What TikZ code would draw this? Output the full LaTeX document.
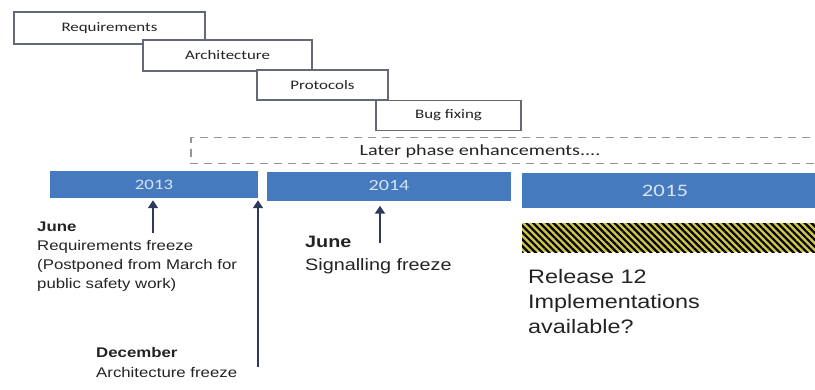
\documentclass[tikz,border=0pt]{standalone}
\usepackage{fontspec}
\setmainfont[FakeStretch=1.2]{Liberation Sans}
\newfontfamily\carlito[FakeStretch=1.3]{Carlito}
\usepackage{xcolor}
\usetikzlibrary{arrows.meta, patterns.meta}

\definecolor{barblue}{RGB}{70,122,190}
\definecolor{yeartxt}{RGB}{215,228,245}
\definecolor{arrownavy}{RGB}{45,58,90}
\definecolor{boxgray}{RGB}{100,105,118}
\definecolor{dashgray}{RGB}{150,150,150}
\definecolor{notetxt}{RGB}{35,35,35}
\definecolor{hazard}{RGB}{205,198,75}

\begin{document}
\begin{tikzpicture}[x=1pt, y=-1pt,
    phase/.style={rectangle, draw=boxgray, line width=1.8pt, fill=white, inner sep=0pt, text=notetxt, font=\carlito\fontsize{13}{15}\selectfont},
    later/.style={draw=dashgray, line width=1.8pt, dash pattern=on 8pt off 6pt},
    yr/.style={rectangle, fill=barblue, text=yeartxt, inner sep=0pt},
    note/.style={anchor=north west, align=left, inner sep=0pt, text=notetxt},
    up/.style={-{Triangle[length=8pt, width=10pt]}, line width=2.4pt, draw=arrownavy, shorten >=2pt},
]
    \useasboundingbox (0,0) rectangle (815,389);

    % work phases
    \node[phase, minimum width=191pt, minimum height=32pt] (req) at (109.5,28) {Requirements};
    \node[phase, minimum width=169pt, minimum height=31pt] (arch) at (227.5,55.5) {Architecture};
    \node[phase, minimum width=131pt, minimum height=30pt] (prot) at (322.5,85) {Protocols};
    \node[phase, minimum width=145pt, minimum height=30pt] (bug) at (448.5,115.5) {Bug fixing};
    \node[text=notetxt, font=\carlito\fontsize{15.5}{17}\selectfont] (lpetxt) at (480,151) {Later phase enhancements....};
    % open to the right, runs on past the page
    \draw[later] (880,137.5) -- (191,137.5) -- (191,163.5) -- (880,163.5);

    % years
    \node[yr, minimum width=208pt, minimum height=27pt, font=\carlito\fontsize{14.5}{16}\selectfont] (y13) at (154,184.5) {2013};
    \node[yr, minimum width=244pt, minimum height=29pt, font=\carlito\fontsize{15.5}{17}\selectfont] (y14) at (389,186) {2014};
    \node[yr, minimum width=340pt, minimum height=35pt, anchor=west] (y15) at (522,190.5) {};
    \node[text=yeartxt, font=\carlito\fontsize{17.5}{19}\selectfont] (y15txt) at (665,190.5) {2015};
    \path[fill=hazard, postaction={pattern={Lines[angle=-45, distance=4.8pt, line width=2.2pt]}, pattern color=black}] (522,223) rectangle (860,252);

    % milestones
    \node[note, font=\fontsize{14}{19}\selectfont] (jun13) at (37,222) {\textbf{June}\\Requirements freeze\\(Postponed from March for\\public safety work)};
    \node[note, font=\fontsize{14}{20}\selectfont] (dec13) at (96,347) {\textbf{December}\\Architecture freeze};
    \node[note, font=\fontsize{16.5}{23}\selectfont] (jun14) at (305,236) {\textbf{June}\\Signalling freeze};
    \node[note, font=\fontsize{19.5}{25}\selectfont] (rel12) at (528,269) {Release 12\\Implementations\\available?};

    \coordinate (a13) at (153,233);
    \coordinate (adec) at (258,367);
    \coordinate (a14) at (380,243);
    \draw[up] (a13) -- (a13 |- y13.south);
    \draw[up] (adec) -- (adec |- y13.south);
    \draw[up, shorten >=5pt] (a14) -- (a14 |- y14.south);
\end{tikzpicture}
\end{document}
